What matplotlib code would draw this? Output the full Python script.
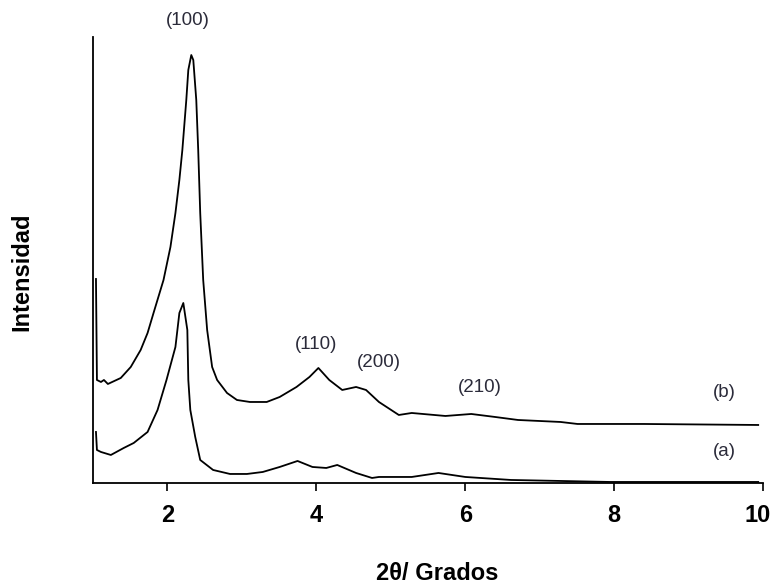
import matplotlib
matplotlib.use("Agg")
import matplotlib.pyplot as plt
from matplotlib.transforms import ScaledTranslation

# Curve (b) — upper trace
two_theta_b = [1.04, 1.053, 1.107, 1.147, 1.2, 1.373, 1.507, 1.64, 1.733, 1.813, 1.947, 2.04,
               2.107, 2.16, 2.2, 2.253, 2.28, 2.32, 2.347, 2.387, 2.413, 2.44, 2.48, 2.533,
               2.6, 2.667, 2.8, 2.933, 3.107, 3.333, 3.507, 3.733, 3.907, 4.027, 4.173, 4.347,
               4.533, 4.667, 4.84, 5.107, 5.28, 5.733, 6.08, 6.4, 6.707, 7.28, 7.507, 8.4, 9.933]
intensity_b = [204, 103, 101, 103, 99, 105, 116, 133, 150, 170, 203, 236,
               270, 303, 333, 383, 413, 428, 423, 383, 333, 270, 203, 153,
               116, 103, 90, 83, 81, 81, 86, 96, 106, 115, 103, 93,
               96, 93, 81, 68, 70, 67, 69, 66, 63, 61, 59, 59, 58]

# Curve (a) — lower trace
two_theta_a = [1.04, 1.053, 1.107, 1.24, 1.413, 1.547, 1.733, 1.867, 1.987, 2.107, 2.16, 2.213,
               2.267, 2.28, 2.307, 2.373, 2.44, 2.613, 2.84, 3.067, 3.28, 3.507, 3.747,
               3.947, 4.133, 4.28, 4.533, 4.747, 4.84, 5.28, 5.64, 6.0, 6.613, 7.947, 9.933]
intensity_a = [51, 33, 31, 28, 35, 40, 51, 73, 103, 136, 170, 180,
               153, 103, 73, 46, 23, 13, 9, 9, 11, 16, 22,
               16, 15, 18, 10, 5, 6, 6, 10, 6, 3, 1, 1]

# Annotations
peak_labels = ["(100)", "(110)", "(200)", "(210)", "(b)", "(a)"]
label_x = [2.28, 4.0, 4.84, 6.2, 9.48, 9.48]
label_y = [463, 138, 120, 95, 90, 31]

x_ticks = [2, 4, 6, 8, 10]

bold_family = ["Liberation Sans Narrow", "Liberation Sans", "DejaVu Sans"]

fig = plt.figure(figsize=(7.73, 5.84), dpi=100)
ax = fig.add_axes([0.1203, 0.173, 0.867, 0.7636])

ax.plot(two_theta_b, intensity_b, color="black", lw=1.3)
ax.plot(two_theta_a, intensity_a, color="black", lw=1.3)

for t, x, y in zip(peak_labels, label_x, label_y):
    ax.text(x, y, t, ha="center", va="center", fontsize=13.5, color="#2b2b3a",
            family=["Liberation Sans", "DejaVu Sans"], clip_on=False)

ax.set_xlim(1, 10)
ax.set_ylim(0, 446)
ax.set_xticks(x_ticks)
ax.set_xticklabels([str(t) for t in x_ticks])
ax.set_yticks([])
ax.spines["top"].set_visible(False)
ax.spines["right"].set_visible(False)
ax.spines["left"].set_linewidth(1.3)
ax.spines["bottom"].set_linewidth(1.3)
ax.tick_params(axis="x", direction="out", length=6, width=1.2, pad=9)
labels = ax.get_xticklabels()
for lab in labels:
    lab.set_family(bold_family)
    lab.set_fontweight("bold")
    lab.set_fontsize(17)
labels[-1].set_transform(labels[-1].get_transform() +
                         ScaledTranslation(-6 / 100, 0, fig.dpi_scale_trans))

fig.text(437 / 773, 11 / 584, "2θ/ Grados", ha="center", va="center",
         fontsize=17, fontweight="bold", family=bold_family)
fig.text(22 / 773, 1 - 272 / 584, "Intensidad", ha="center", va="center",
         rotation=90, fontsize=17, fontweight="bold", family=bold_family)

fig.savefig("out.png", dpi=100)
